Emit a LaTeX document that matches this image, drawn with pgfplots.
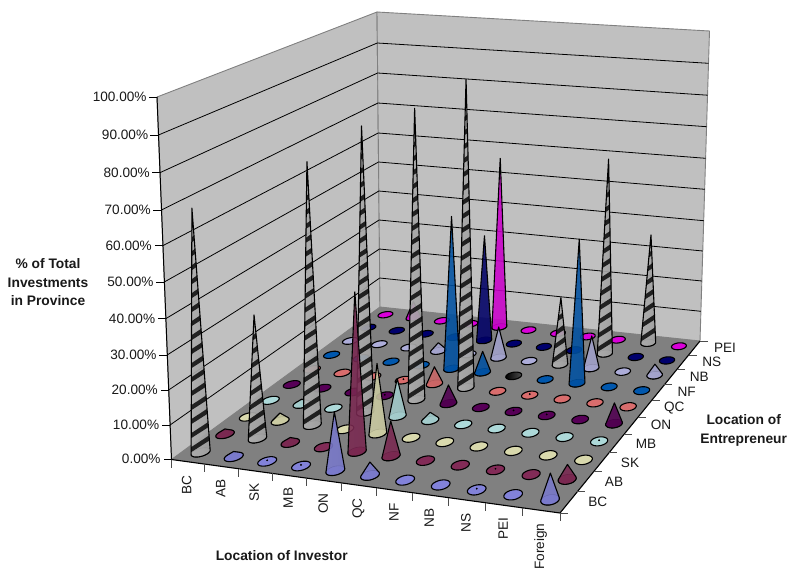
\documentclass[border=0pt]{standalone}
\usepackage{pgfplots}
\pgfplotsset{compat=1.18}
\usepackage{pgfplotstable}
\usepackage{fontspec}
\setmainfont{Liberation Sans}
\definecolor{c0}{HTML}{9999FF}
\definecolor{c1}{HTML}{993366}
\definecolor{c2}{HTML}{FFFFCC}
\definecolor{c3}{HTML}{CCFFFF}
\definecolor{c4}{HTML}{660066}
\definecolor{c5}{HTML}{FF8080}
\definecolor{c6}{HTML}{0066CC}
\definecolor{c7}{HTML}{CCCCFF}
\definecolor{c8}{HTML}{000080}
\definecolor{c9}{HTML}{FF00FF}
\definecolor{stripeC}{HTML}{B8B8B8}
\definecolor{wallC}{HTML}{C0C0C0}
\definecolor{floorC}{HTML}{808080}
% rows: location of entrepreneur; columns: location of investor; % of total
\pgfplotstableread{
Ent BC AB SK MB ON QC NF NB NS PEI Foreign
BC  68 1.5 0.3 0.3 16 3.6 0 0 0.3 0 7
AB  1.5 35 1.5 0 44.5 9.7 0 0 0.3 0 4
SK  0 2.3 76 0 20 0 0 0 0 0 0
MB  0 1.5 0 84 11 2.3 0 0 0 0 0.3
ON  0 0 0 0.3 87 5.5 0 0.3 0.3 0 6
QC  0 0 0 0.3 5.2 93.6 0 0.3 0 0 0
NF  0 0 0 0 47.5 6.5 0.3 0 44 0 0
NB  0 0 0 2.6 0 9.7 0 21 10 0 3.4
NS  0 0 0 0 34 0 0 0 62 0 0
PEI 0 5.5 0 0 56 0 0 0 0 35 0
}\datatable
% floor projection (u along investors, v along entrepreneurs)
\newcommand\proj[2]{%
  \pgfmathsetmacro\PW{1-0.0654*#1+0.24268*#2}%
  \pgfmathsetmacro\PX{(351.88*#1+300.72*#2+171.5)/\PW}%
  \pgfmathsetmacro\PY{(19.95*#1-78*#2+459.5)/\PW}%
}
\newcommand\cell[3]{%
  \pgfmathsetmacro\myU{(#1+0.5)/11}%
  \pgfmathsetmacro\myV{(#2+0.5)/10}%
  \proj\myU\myV
  \let\bX\PX \let\bY\PY \let\bW\PW
  \pgfmathsetmacro\myH{3.625/\bW*#3}%
  \pgfmathsetmacro\tX{\bX-(462-\bX)/(7720-\bY)*\myH}%
  \pgfmathsetmacro\tY{\bY-\myH}%
  \def\basepts{}\def\yMin{9999}%
  \pgfplotsforeachungrouped \kk in {0,1,...,23}{%
    \pgfmathsetmacro\angT{110+15*\kk}%
    \pgfmathsetmacro\pU{\myU+0.0203*cos(\angT)}%
    \pgfmathsetmacro\pV{\myV+0.0245*sin(\angT)}%
    \proj\pU\pV
    \expandafter\let\csname bpx\kk\endcsname\PX
    \expandafter\let\csname bpy\kk\endcsname\PY
    \edef\basepts{\basepts(\PX,\PY)}%
    \pgfmathsetmacro\yMin{min(\yMin,\PY)}%
  }%
  \ifnum#1=#2\relax\def\col{stripeC}\else\def\col{c#2}\fi
  \pgfmathtruncatemacro\isCone{\tY<\yMin-0.7?1:0}%
  \ifnum\isCone=1\relax
    \edef\doit{\noexpand\addplot[fill=\col!85!black,draw=black,line width=0.6pt] coordinates {\basepts} -- cycle;}\doit
    \def\sL{1000}\def\sR{-1000}\def\kL{0}\def\kR{0}%
    \pgfplotsforeachungrouped \kk in {0,1,...,23}{%
      \pgfmathsetmacro\sS{(\csname bpx\kk\endcsname-\tX)/(\csname bpy\kk\endcsname-\tY)}%
      \ifdim\sS pt<\sL pt\let\sL\sS\let\kL\kk\fi
      \ifdim\sS pt>\sR pt\let\sR\sS\let\kR\kk\fi
    }%
    \edef\conepts{(\tX,\tY)}%
    \pgfplotsforeachungrouped \kk in {0,1,...,23}{%
      \ifnum\kk<\kL\relax\else\ifnum\kk>\kR\relax\else
        \edef\conepts{\conepts(\csname bpx\kk\endcsname,\csname bpy\kk\endcsname)}%
      \fi\fi
    }%
    \ifnum#1=#2\relax
      \edef\doit{\noexpand\addplot[draw=none,fill opacity=0.92,left color=black!32,middle color=white,right color=black!38] coordinates {\conepts} -- cycle;}\doit
      \edef\xL{\csname bpx\kL\endcsname}\edef\yL{\csname bpy\kL\endcsname}%
      \edef\xR{\csname bpx\kR\endcsname}\edef\yR{\csname bpy\kR\endcsname}%
      \def\stripepts{}%
      \pgfplotsforeachungrouped \ss in {0,1,...,24}{%
        \pgfmathsetmacro\yA{\yL-2-14*\ss}%
        \pgfmathsetmacro\fA{(\yA-\tY)/(\yL-\tY)}%
        \pgfmathtruncatemacro\okS{\yA-\tY>14?1:0}%
        \ifnum\okS=1\relax
          \pgfmathsetmacro\xA{\tX+(\xL-\tX)*\fA}%
          \pgfmathsetmacro\wA{(\xR-\xL)*\fA}%
          \pgfmathsetmacro\yB{\yA-0.62*\wA}%
          \pgfmathsetmacro\xB{\tX+(\xR-\tX)*(\yB-\tY)/(\yR-\tY)}%
          \pgfmathsetmacro\yC{\yB-5}%
          \pgfmathsetmacro\xC{\tX+(\xR-\tX)*(\yC-\tY)/(\yR-\tY)}%
          \pgfmathsetmacro\yD{\yA-5}%
          \pgfmathsetmacro\xD{\tX+(\xL-\tX)*(\yD-\tY)/(\yL-\tY)}%
          \edef\stripepts{\stripepts(\xA,\yA)(\xB,\yB)(\xC,\yC)(\xD,\yD)(\xA,\yA)}%
        \fi
      }%
      \edef\doit{\noexpand\addplot[draw=none,fill=black,fill opacity=0.8] coordinates {\stripepts} -- cycle;}\doit
    \else
      \edef\doit{\noexpand\addplot[draw=none,fill opacity=0.88,left color=\col!80!black,middle color=\col!82!white,right color=\col!78!black] coordinates {\conepts} -- cycle;}\doit
    \fi
    \edef\doit{\noexpand\addplot[draw=black,line width=1.1pt,line join=round] coordinates {\conepts} -- cycle;}\doit
  \else
    \ifnum#1=#2\relax
      \edef\doit{\noexpand\addplot[draw=black,line width=1.1pt,left color=black,middle color=white,right color=black!70] coordinates {\basepts} -- cycle;}\doit
    \else
      \edef\doit{\noexpand\addplot[fill=\col!85!black,draw=black,line width=1.1pt] coordinates {\basepts} -- cycle;}\doit
      \pgfmathtruncatemacro\hasDot{#3>0?1:0}%
      \ifnum\hasDot=1\relax
        \edef\doit{\noexpand\addplot[only marks,mark=*,mark size=0.7pt,black] coordinates {(\tX,\tY)};}\doit
      \fi
    \fi
  \fi
}
\begin{document}
\begin{tikzpicture}
\useasboundingbox (0,0) rectangle (791pt,571pt);
\begin{axis}[at={(0,0)},anchor=south west,scale only axis,width=791pt,height=571pt,
  xmin=0,xmax=791,ymin=0,ymax=571,y dir=reverse,hide axis,clip=false,no markers]
% walls
\addplot[fill=wallC,draw=black!50,line width=0.9pt] coordinates {(171.5,459.5)(157,97)(377,12)(380,307)} -- cycle;
\addplot[fill=wallC,draw=black!50,line width=0.9pt] coordinates {(380,307)(377,12)(709.5,31)(700,341)} -- cycle;
% gridlines: fraction / y on left edge / y on back edge / y on right edge
\foreach \z/\ay/\by/\cy in {0.1/425/278/311.3,0.2/390/249/281,0.3/355/220/251,0.4/318.7/191/220.7,0.5/282/162/189.3,0.6/245.7/133/158.3,0.7/210/103/126.7,0.8/172.7/73/95.2,0.9/135/43/63.3}{
  \pgfmathsetmacro\ax{171.5-14.5*\z}
  \pgfmathsetmacro\bx{380-3*\z}
  \pgfmathsetmacro\cx{700+9.5*\z}
  \edef\doit{\noexpand\addplot[black,line width=0.8pt] coordinates {(\ax,\ay)(\bx,\by)(\cx,\cy)};}\doit
}
% value axis and ticks
\addplot[black,line width=1pt] coordinates {(171.5,459.5)(157,97)};
\foreach \z/\ay in {0/459.5,0.1/425,0.2/390,0.3/355,0.4/318.7,0.5/282,0.6/245.7,0.7/210,0.8/172.7,0.9/135,1/97}{
  \pgfmathsetmacro\ax{171.5-14.5*\z}
  \pgfmathsetmacro\ex{\ax-8}
  \edef\doit{\noexpand\addplot[black,line width=0.8pt] coordinates {(\ax,\ay)(\ex,\ay)};}\doit
}
% floor
\addplot[fill=floorC,draw=none] coordinates {(171.5,459.5)(560,513)(700,341)(380,307)} -- cycle;
\addplot[black,line width=1.1pt] coordinates {(171.5,459.5)(560,513)(700,341)};
\foreach \ii in {0,1,...,11}{
  \pgfmathsetmacro\uu{\ii/11}\proj\uu{0}
  \pgfmathsetmacro\ey{\PY+8}
  \edef\doit{\noexpand\addplot[black!70,line width=0.9pt] coordinates {(\PX,\PY)(\PX,\ey)};}\doit
}
\foreach \jj in {0,1,...,10}{
  \pgfmathsetmacro\vv{\jj/10}\proj{1}\vv
  \pgfmathsetmacro\ex{\PX+8}
  \edef\doit{\noexpand\addplot[black!70,line width=0.9pt] coordinates {(\PX,\PY)(\ex,\PY)};}\doit
}
% cones, back to front
\foreach \jj in {9,8,...,0}{
  \foreach \ii in {0,1,...,10}{
    \pgfmathtruncatemacro\cidx{\ii+1}
    \pgfplotstablegetelem{\jj}{[index]\cidx}\of\datatable
    \let\val\pgfplotsretval
    \cell{\ii}{\jj}{\val}
  }
}
% text
\def\tk{\fontsize{13.6}{15}\selectfont}
\def\tb{\fontsize{13.8}{19}\selectfont\bfseries}
\tikzset{lab/.style={anchor=east,font=\tk,inner sep=0pt,text=black!90},rl/.style={rotate=90,anchor=east,font=\tk,inner sep=0pt,text=black!90},ll/.style={font=\tk,inner sep=0pt,text=black!90},bt/.style={font=\tb,inner sep=0pt,text=black!90}}
\node[lab] at (axis cs:160.7,459) {0.00\%};
\node[lab] at (axis cs:159.3,425) {10.00\%};
\node[lab] at (axis cs:158,390) {20.00\%};
\node[lab] at (axis cs:156.7,355) {30.00\%};
\node[lab] at (axis cs:155.3,318.7) {40.00\%};
\node[lab] at (axis cs:153.7,282) {50.00\%};
\node[lab] at (axis cs:152,245.7) {60.00\%};
\node[lab] at (axis cs:151,210) {70.00\%};
\node[lab] at (axis cs:150,172.7) {80.00\%};
\node[lab] at (axis cs:148.3,135) {90.00\%};
\node[lab] at (axis cs:146.7,96.7) {100.00\%};
\node[rl] at (axis cs:186.7,475) {BC};
\node[rl] at (axis cs:220.7,479) {AB};
\node[rl] at (axis cs:254.3,483.3) {SK};
\node[rl] at (axis cs:288.3,487.7) {MB};
\node[rl] at (axis cs:323.3,493.3) {ON};
\node[rl] at (axis cs:358.3,498.3) {QC};
\node[rl] at (axis cs:394,503.3) {NF};
\node[rl] at (axis cs:429.3,508.3) {NB};
\node[rl] at (axis cs:466,513.3) {NS};
\node[rl] at (axis cs:503.3,517.7) {PEI};
\node[rl] at (axis cs:540.7,523.3) {Foreign};
\node[ll] at (axis cs:597.7,502) {BC};
\node[ll] at (axis cs:614,482) {AB};
\node[ll] at (axis cs:630,463) {SK};
\node[ll] at (axis cs:646,444) {MB};
\node[ll] at (axis cs:661,425) {ON};
\node[ll] at (axis cs:674.3,407.7) {QC};
\node[ll] at (axis cs:686.7,391.7) {NF};
\node[ll] at (axis cs:699.3,377.3) {NB};
\node[ll] at (axis cs:711.7,361.7) {NS};
\node[ll] at (axis cs:725,348) {PEI};
\node[bt] at (axis cs:281.7,555.7) {Location of Investor};
\node[bt] at (axis cs:48,264) {\% of Total};
\node[bt] at (axis cs:48,282.7) {Investments};
\node[bt] at (axis cs:48,300.5) {in Province};
\node[bt] at (axis cs:743.7,420) {Location of};
\node[bt] at (axis cs:743.7,440) {Entrepreneur};
\end{axis}
\end{tikzpicture}
\end{document}
